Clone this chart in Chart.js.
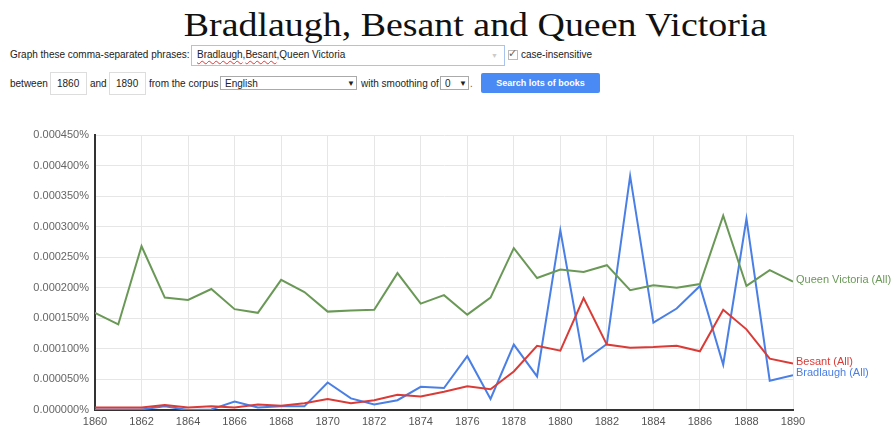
<!DOCTYPE html>
<html>
<head>
<meta charset="utf-8">
<script src="https://cdn.jsdelivr.net/npm/chart.js@4"></script>
<style>
  html,body{margin:0;padding:0;background:#fff;width:894px;height:426px;overflow:hidden;}
  body{font-family:"Liberation Sans",Arial,sans-serif;color:#222;font-size:10px;position:relative;}
  .abs{position:absolute;white-space:nowrap;}
  #title{left:0;width:951px;top:5px;text-align:center;font-family:"Liberation Serif","Times New Roman",serif;font-size:34px;line-height:40px;color:#111;transform:scaleX(1.115);transform-origin:475.5px 0;}
  .box{position:absolute;border:1px solid #d0d0d0;background:#fff;box-sizing:border-box;}
  .lbl{position:absolute;white-space:nowrap;line-height:14px;}
  .spell{text-decoration:underline wavy #e33;text-decoration-thickness:1px;text-underline-offset:2px;}
  #btn{position:absolute;left:481px;top:73px;width:119px;height:20px;background:#4a8af4;color:#fff;font-weight:bold;text-align:center;line-height:20px;border-radius:2px;font-size:9px;}
  #wrap{position:absolute;left:0;top:110px;width:894px;height:316px;}
</style>
</head>
<body>
<div id="title" class="abs">Bradlaugh, Besant and Queen Victoria</div>

<div class="lbl" style="left:10px;top:48px;">Graph these comma-separated phrases:</div>
<div class="box" style="left:191px;top:45px;width:314px;height:21px;border-color:#a9c3ee;"></div>
<div class="lbl" style="left:197px;top:48px;"><span class="spell">Bradlaugh</span>,<span class="spell">Besant</span>,Queen Victoria</div>
<div class="lbl" style="left:491px;top:49px;color:#ccc;font-size:7px;">▼</div>
<div class="box" style="left:508px;top:50px;width:10px;height:10px;border-color:#bbb;"></div>
<div class="lbl" style="left:508px;top:46px;color:#666;font-size:11px;">✓</div>
<div class="lbl" style="left:521px;top:48px;">case-insensitive</div>

<div class="lbl" style="left:10px;top:77px;">between</div>
<div class="box" style="left:50px;top:72px;width:37px;height:23px;border-color:#ddd;"></div>
<div class="lbl" style="left:57px;top:77px;">1860</div>
<div class="lbl" style="left:90px;top:77px;">and</div>
<div class="box" style="left:109px;top:72px;width:37px;height:23px;border-color:#ddd;"></div>
<div class="lbl" style="left:116px;top:77px;">1890</div>
<div class="lbl" style="left:149px;top:77px;">from the corpus</div>
<div class="box" style="left:220px;top:76px;width:137px;height:14px;border-color:#aaa;"></div>
<div class="lbl" style="left:225px;top:77px;">English</div>
<div class="lbl" style="left:347px;top:77px;font-size:8px;">▼</div>
<div class="lbl" style="left:361px;top:77px;">with smoothing of</div>
<div class="box" style="left:440px;top:76px;width:29px;height:14px;border-color:#aaa;"></div>
<div class="lbl" style="left:445px;top:77px;">0</div>
<div class="lbl" style="left:459px;top:77px;font-size:8px;">▼</div>
<div class="lbl" style="left:470px;top:77px;color:#c33;">.</div>
<div id="btn">Search lots of books</div>

<div id="wrap"><canvas id="c" width="894" height="316"></canvas></div>

<script>
const years = [1860,1861,1862,1863,1864,1865,1866,1867,1868,1869,1870,1871,1872,1873,1874,1875,1876,1877,1878,1879,1880,1881,1882,1883,1884,1885,1886,1887,1888,1889,1890];
const seriesNames = ["Bradlaugh (All)", "Besant (All)", "Queen Victoria (All)"];
const bradlaugh = [0.000001,0.000001,0.000001,0.000006,0.000000,0.000001,0.000014,0.000004,0.000006,0.000006,0.000045,0.000019,0.000009,0.000016,0.000038,0.000036,0.000088,0.000018,0.000107,0.000055,0.000294,0.000080,0.000108,0.000383,0.000143,0.000166,0.000203,0.000074,0.000313,0.000048,0.000057];
const besant = [0.000004,0.000004,0.000004,0.000008,0.000004,0.000006,0.000004,0.000009,0.000007,0.000011,0.000018,0.000011,0.000016,0.000025,0.000022,0.000030,0.000039,0.000034,0.000063,0.000105,0.000097,0.000183,0.000107,0.000102,0.000103,0.000105,0.000096,0.000164,0.000132,0.000084,0.000076];
const queenVictoria = [0.000159,0.000140,0.000268,0.000184,0.000180,0.000198,0.000165,0.000159,0.000213,0.000193,0.000161,0.000163,0.000164,0.000224,0.000174,0.000188,0.000156,0.000184,0.000265,0.000216,0.000230,0.000226,0.000237,0.000196,0.000204,0.000200,0.000206,0.000318,0.000203,0.000229,0.000210];
const yTicks = [0,0.00005,0.0001,0.00015,0.0002,0.00025,0.0003,0.00035,0.0004,0.00045];
const colors = ["#4a7fe6","#db3b36","#6a9957"];

const allSeries = [bradlaugh, besant, queenVictoria];
const datasets = allSeries.map((vals,i)=>({
  label: seriesNames[i],
  data: years.map((y,j)=>({x:y,y:vals[j]})),
  borderColor: colors[i],
  backgroundColor: colors[i],
  borderWidth: 2,
  pointRadius: 0,
  tension: 0,
  fill: false
}));
datasets.reverse();

const endLabels = {
  id:'endLabels',
  afterDatasetsDraw(chart){
    const ctx = chart.ctx;
    ctx.save();
    ctx.font = '11px "Liberation Sans", Arial, sans-serif';
    ctx.textBaseline = 'middle';
    ctx.textAlign = 'left';
    chart.data.datasets.forEach((ds,i)=>{
      const meta = chart.getDatasetMeta(i);
      const pt = meta.data[meta.data.length-1];
      ctx.fillStyle = ds.borderColor;
      ctx.fillText(ds.label, pt.x + 3, pt.y - 2);
    });
    ctx.restore();
  }
};

new Chart(document.getElementById('c'), {
  type:'line',
  data:{datasets},
  options:{
    responsive:false,
    animation:false,
    events:[],
    layout:{padding:{top:25,right:101,left:0,bottom:0}},
    plugins:{legend:{display:false},tooltip:{enabled:false}},
    scales:{
      x:{
        type:'linear', min:1860, max:1890,
        afterFit(s){ s.height = 16; },
        grid:{color:'#e6e6e6', lineWidth:1, drawTicks:false},
        border:{display:true,color:'#333',width:2},
        ticks:{stepSize:2, padding:5, color:'#555', font:{family:'"Liberation Sans", Arial, sans-serif', size:11}, callback:v=>String(v), maxRotation:0, autoSkip:false}
      },
      y:{
        min:0, max:0.00045,
        afterFit(s){ s.width = 95; },
        afterBuildTicks(s){ s.ticks = yTicks.map(v=>({value:v})); },
        grid:{color:'#e6e6e6', lineWidth:1, drawTicks:false},
        border:{display:true,color:'#333',width:2},
        ticks:{padding:6, color:'#666', font:{family:'"Liberation Sans", Arial, sans-serif', size:11}, callback:v=>v.toFixed(6)+'%'}
      }
    }
  },
  plugins:[endLabels]
});
</script>
</body>
</html>
